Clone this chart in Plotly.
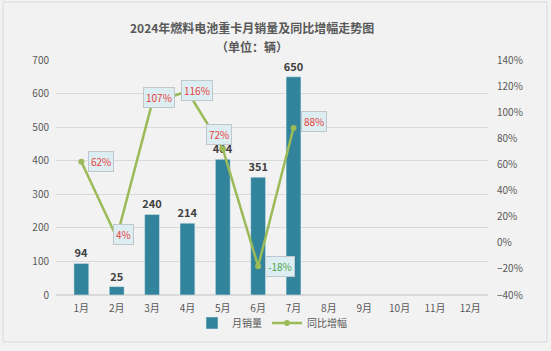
import plotly.graph_objects as go

months = ["1月", "2月", "3月", "4月", "5月", "6月", "7月", "8月", "9月", "10月", "11月", "12月"]
sales = [94, 25, 240, 214, 404, 351, 650, None, None, None, None, None]
yoy = [0.62, 0.04, 1.07, 1.16, 0.72, -0.18, 0.88, None, None, None, None, None]
yoy_labels = ["62%", "4%", "107%", "116%", "72%", "-18%", "88%"]

# pixel offsets for the growth labels (style only)
label_shift = [(20, 0), (7, 3), (7, 6), (10, 1), (-4, 14), (22, 0), (20, 6)]

FONT = "Noto Sans CJK SC"
BAR_C = "#31849B"
LINE_C = "#9BBB59"

fig = go.Figure()
fig.add_trace(go.Bar(
    x=months, y=sales, name="月销量", marker_color=BAR_C, width=0.42,
    text=[str(v) if v is not None else "" for v in sales], textposition="outside",
    textfont=dict(family=FONT, size=11, color="#404040", weight="bold"),
    constraintext="none", cliponaxis=False,
))
fig.add_trace(go.Scatter(
    x=months[:7], y=yoy[:7], name="同比增幅", yaxis="y2", mode="lines+markers",
    line=dict(color=LINE_C, width=2.5), marker=dict(color=LINE_C, size=6),
))

for i, lab in enumerate(yoy_labels):
    dx, dy = label_shift[i]
    col = "#E8413B" if yoy[i] >= 0 else "#4EA64A"
    fig.add_annotation(
        x=months[i], y=yoy[i], xref="x", yref="y2", text=lab, showarrow=False,
        xshift=dx, yshift=dy, font=dict(family=FONT, size=10, color=col),
        bgcolor="#DDEEF3", bordercolor="#BFC7CC", borderwidth=1, borderpad=2,
    )

fig.add_annotation(text="2024年燃料电池重卡月销量及同比增幅走势图", xref="paper", yref="paper",
                   x=0.454, y=1.14, showarrow=False, xanchor="center", yanchor="middle",
                   font=dict(family=FONT, size=12, color="#595959", weight="bold"))
fig.add_annotation(text="（单位：辆）", xref="paper", yref="paper",
                   x=0.454, y=1.057, showarrow=False, xanchor="center", yanchor="middle",
                   font=dict(family=FONT, size=12, color="#595959", weight="bold"))

fig.add_shape(type="rect", xref="paper", yref="paper", x0=-0.1227, x1=1.1366,
              y0=-0.2, y1=1.2468, line=dict(color="#D9D9D9", width=1), layer="below")

fig.update_layout(
    width=551, height=351,
    margin=dict(l=56, r=63, t=60, b=56, autoexpand=False),
    paper_bgcolor="#F2F2F2", plot_bgcolor="#F2F2F2",
    font=dict(family=FONT, size=10, color="#595959"),
    bargap=0.58,
    showlegend=True,
    legend=dict(orientation="h", x=0.5, xanchor="center", y=-0.119, yanchor="middle",
                font=dict(family=FONT, size=10, color="#595959"), bgcolor="rgba(0,0,0,0)"),
    xaxis=dict(showgrid=False, showline=False, ticks="", ticklabelstandoff=6,
               tickfont=dict(size=10, color="#595959")),
    yaxis=dict(range=[0, 700], dtick=100, showgrid=True, gridcolor="#D9D9D9", gridwidth=1,
               zeroline=True, zerolinecolor="#D9D9D9", tickfont=dict(size=10, color="#595959"),
               ticklabelstandoff=6),
    yaxis2=dict(range=[-0.4, 1.4], dtick=0.2, tickformat=".0%", overlaying="y", side="right",
                showgrid=False, zeroline=False, tickfont=dict(size=10, color="#595959"),
                ticklabelstandoff=8),
)

fig.write_html("out.html")
